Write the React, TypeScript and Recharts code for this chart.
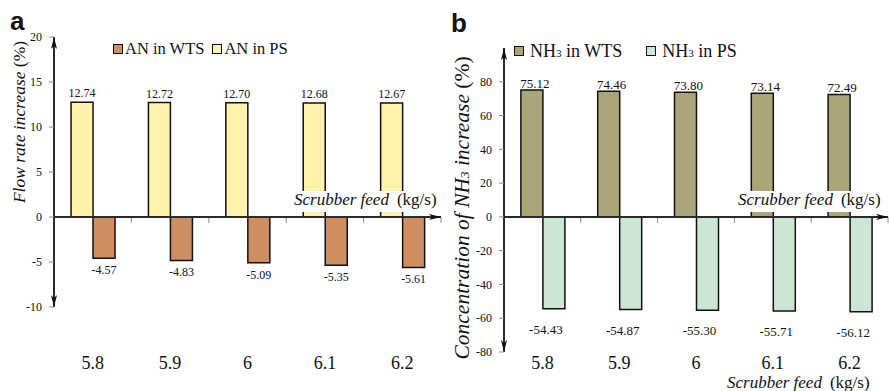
import React from 'react'
import { BarChart, Bar, XAxis, YAxis, ReferenceLine, LabelList, Legend } from 'recharts'

// scrubber feed (kg/s) on both panels
const scrubberFeed = ['5.8', '5.9', '6', '6.1', '6.2']

// panel a: flow rate increase (%)
const anInWts = [-4.57, -4.83, -5.09, -5.35, -5.61]
const anInPs = [12.74, 12.72, 12.7, 12.68, 12.67]
const flowTicks = [-10, -5, 0, 5, 10, 15, 20]

// panel b: NH3 concentration increase (%)
const nh3InWts = [75.12, 74.46, 73.8, 73.14, 72.49]
const nh3InPs = [-54.43, -54.87, -55.3, -55.71, -56.12]
const concTicks = [-80, -60, -40, -20, 0, 20, 40, 60, 80]

const dataA = scrubberFeed.map((feed, i) => ({ feed, wts: anInWts[i], ps: anInPs[i] }))
const dataB = scrubberFeed.map((feed, i) => ({ feed, wts: nh3InWts[i], ps: nh3InPs[i] }))

const SERIF = '"Liberation Serif", "Times New Roman", serif'
const SANS = '"Liberation Sans", Arial, sans-serif'
const INK = '#111'
const AXIS = '#2a2a2a'
const TICK = '#8a8a8a'

const COLORS = {
  anWts: '#cf8e62',
  anPs: '#fff3ac',
  nhWts: '#aba57a',
  nhPs: '#cde5d3',
}

/** "NH₃ …" -> NH with a small 3 */
function seriesName(name: string) {
  const i = name.indexOf('₃')
  if (i < 0) return <span>{name}</span>
  return (
    <span style={{ whiteSpace: 'pre' }}>
      {name.slice(0, i)}
      <span style={{ fontSize: '0.62em' }}>3</span>
      {name.slice(i + 1)}
    </span>
  )
}

function SeriesLegend({ payload = [], order, gap, fontSize, iconGap }: any) {
  const items = order.map((n: string) => payload.find((p: any) => p.value === n)).filter(Boolean)
  return (
    <div style={{ display: 'flex', alignItems: 'center', fontFamily: SERIF, fontSize, color: INK, whiteSpace: 'nowrap', lineHeight: 1.15 }}>
      {items.map((p: any, i: number) => (
        <span key={p.value} style={{ display: 'flex', alignItems: 'center', marginLeft: i ? gap : 0 }}>
          <span style={{ width: 8, height: 8, border: `1px solid ${INK}`, background: p.color, marginRight: iconGap }} />
          {seriesName(p.value)}
        </span>
      ))}
    </div>
  )
}

// value labels: above positive bars, below negative ones
const valueLabel = (fontSize: number, above: number, below: number, dxPos = 0, dxNeg = 0) => (props: any) => {
  const vb = props.viewBox ?? props
  const { x, y, width, height } = vb
  const v = Number(props.value)
  const top = Math.min(y, y + height)
  const bottom = Math.max(y, y + height)
  const cx = x + width / 2
  return (
    <text
      x={cx + (v >= 0 ? dxPos : dxNeg)}
      y={v >= 0 ? top - above : bottom + below}
      textAnchor="middle"
      fontSize={fontSize}
      fontFamily={SERIF}
      fill={INK}
    >
      {v.toFixed(2)}
    </text>
  )
}

// short grey marks on the zero line at the category borders
function borderTicks(len: number) {
  const last = scrubberFeed[scrubberFeed.length - 1]
  return [
    ...scrubberFeed.slice(1).map((f) => (
      <ReferenceLine key={f} segment={[{ x: f, y: 0 }, { x: f, y: -len }]} position="start" stroke={TICK} strokeWidth={1} />
    )),
    <ReferenceLine key="end" segment={[{ x: last, y: 0 }, { x: last, y: -len }]} position="end" stroke={TICK} strokeWidth={1} />,
  ]
}

function ArrowDefs({ id }: { id: string }) {
  return (
    <defs>
      <marker id={id} viewBox="0 0 12 6" refX="12" refY="3" markerWidth="12" markerHeight="6" markerUnits="userSpaceOnUse" orient="auto-start-reverse">
        <path d="M0,0 L12,3 L0,6 L3,3 z" fill={INK} />
      </marker>
    </defs>
  )
}

const yTick = { fontSize: 12, fill: INK, fontFamily: SERIF }

function PanelA() {
  return (
    <BarChart width={445} height={391} data={dataA} margin={{ top: 37, right: 4, bottom: 14, left: 14 }} barGap={0} barCategoryGap="22%">
      <ArrowDefs id="arrowA" />
      <XAxis dataKey="feed" axisLine={false} tickLine={false} tickSize={0} tickMargin={49} height={70} tick={{ fontSize: 18, fill: INK, fontFamily: SERIF }} />
      <YAxis
        domain={[-10, 20]}
        ticks={flowTicks}
        width={40}
        tickSize={5}
        tickMargin={7}
        tick={yTick}
        tickLine={{ stroke: TICK }}
        axisLine={{ stroke: AXIS, strokeWidth: 2, markerStart: 'url(#arrowA)', markerEnd: 'url(#arrowA)' }}
      />
      <Legend
        verticalAlign="middle"
        align="center"
        layout="horizontal"
        wrapperStyle={{ top: 40, left: 113, width: 'auto' }}
        content={(p: any) => <SeriesLegend {...p} order={['AN in WTS', 'AN in PS']} gap={8} fontSize={16.5} iconGap={2} />}
      />
      <Bar dataKey="ps" name="AN in PS" fill={COLORS.anPs} stroke={INK} strokeWidth={1.5} isAnimationActive={false}>
        <LabelList dataKey="ps" content={valueLabel(12, 5, 16)} />
      </Bar>
      <Bar dataKey="wts" name="AN in WTS" fill={COLORS.anWts} stroke={INK} strokeWidth={1.5} isAnimationActive={false}>
        <LabelList dataKey="wts" content={valueLabel(12, 5, 16)} />
      </Bar>
      {borderTicks(0.65)}
      <ReferenceLine y={0} stroke={AXIS} strokeWidth={2} markerEnd="url(#arrowA)" />
    </BarChart>
  )
}

function PanelB() {
  return (
    <BarChart width={444} height={391} data={dataB} margin={{ top: 48, right: 1, bottom: 9, left: 19 }} barGap={0} barCategoryGap="22%">
      <ArrowDefs id="arrowB" />
      <XAxis dataKey="feed" axisLine={false} tickLine={false} tickSize={0} tickMargin={4} height={30} tick={{ fontSize: 18, fill: INK, fontFamily: SERIF }} />
      <YAxis
        domain={[-80, 100]}
        ticks={concTicks}
        width={40}
        tickSize={5}
        tickMargin={7}
        tick={yTick}
        tickLine={{ stroke: TICK }}
        axisLine={{ stroke: AXIS, strokeWidth: 2, markerStart: 'url(#arrowB)', markerEnd: 'url(#arrowB)' }}
      />
      <Legend
        verticalAlign="middle"
        align="center"
        layout="horizontal"
        wrapperStyle={{ top: 41, left: 69, width: 'auto' }}
        content={(p: any) => <SeriesLegend {...p} order={['NH₃ in WTS', 'NH₃ in PS']} gap={24} fontSize={18} iconGap={6} />}
      />
      <Bar dataKey="wts" name="NH₃ in WTS" fill={COLORS.nhWts} stroke={INK} strokeWidth={1.5} isAnimationActive={false}>
        <LabelList dataKey="wts" content={valueLabel(13, 2, 25, 3, -8)} />
      </Bar>
      <Bar dataKey="ps" name="NH₃ in PS" fill={COLORS.nhPs} stroke={INK} strokeWidth={1.5} isAnimationActive={false}>
        <LabelList dataKey="ps" content={valueLabel(13, 2, 25, 3, -8)} />
      </Bar>
      {borderTicks(3.6)}
      <ReferenceLine y={0} stroke={AXIS} strokeWidth={2} markerEnd="url(#arrowB)" />
    </BarChart>
  )
}

function FeedLabel({ x, y, bg }: { x: number; y: number; bg?: boolean }) {
  return (
    <g>
      {bg && <rect x={x - 4} y={y - 14} width={150} height={21} fill="#fff" />}
      <text x={x} y={y} fontSize={17} fontFamily={SERIF} fill={INK}>
        <tspan fontStyle="italic">Scrubber feed</tspan>
        <tspan dx={8}>(kg/s)</tspan>
      </text>
    </g>
  )
}

export default function App() {
  return (
    <div style={{ position: 'absolute', left: 0, top: 0, width: 889, height: 391, background: '#fff', overflow: 'hidden', fontFamily: SERIF }}>
      <div style={{ position: 'absolute', left: 0, top: 0 }}>
        <PanelA />
      </div>
      <div style={{ position: 'absolute', left: 445, top: 0 }}>
        <PanelB />
      </div>
      <svg width={889} height={391} style={{ position: 'absolute', left: 0, top: 0, pointerEvents: 'none' }}>
        <text x={10} y={30} fontSize={26} fontWeight="bold" fontFamily={SANS} fill={INK}>a</text>
        <text x={451} y={32} fontSize={26} fontWeight="bold" fontFamily={SANS} fill={INK}>b</text>

        <text transform="translate(25,122) rotate(-90)" textAnchor="middle" fontSize={17.5} fontFamily={SERIF} fill={INK}>
          <tspan fontStyle="italic">Flow rate increase </tspan>
          <tspan>(%)</tspan>
        </text>
        <text transform="translate(469,208) rotate(-90)" textAnchor="middle" fontSize={21.5} fontFamily={SERIF} fill={INK}>
          <tspan fontStyle="italic">Concentration of NH</tspan>
          <tspan fontStyle="italic" fontSize={13}>3</tspan>
          <tspan fontStyle="italic"> increase </tspan>
          <tspan>(%)</tspan>
        </text>

        <FeedLabel x={294} y={205} bg />
        <FeedLabel x={738} y={205} bg />
        <FeedLabel x={727} y={388} />
      </svg>
    </div>
  )
}
